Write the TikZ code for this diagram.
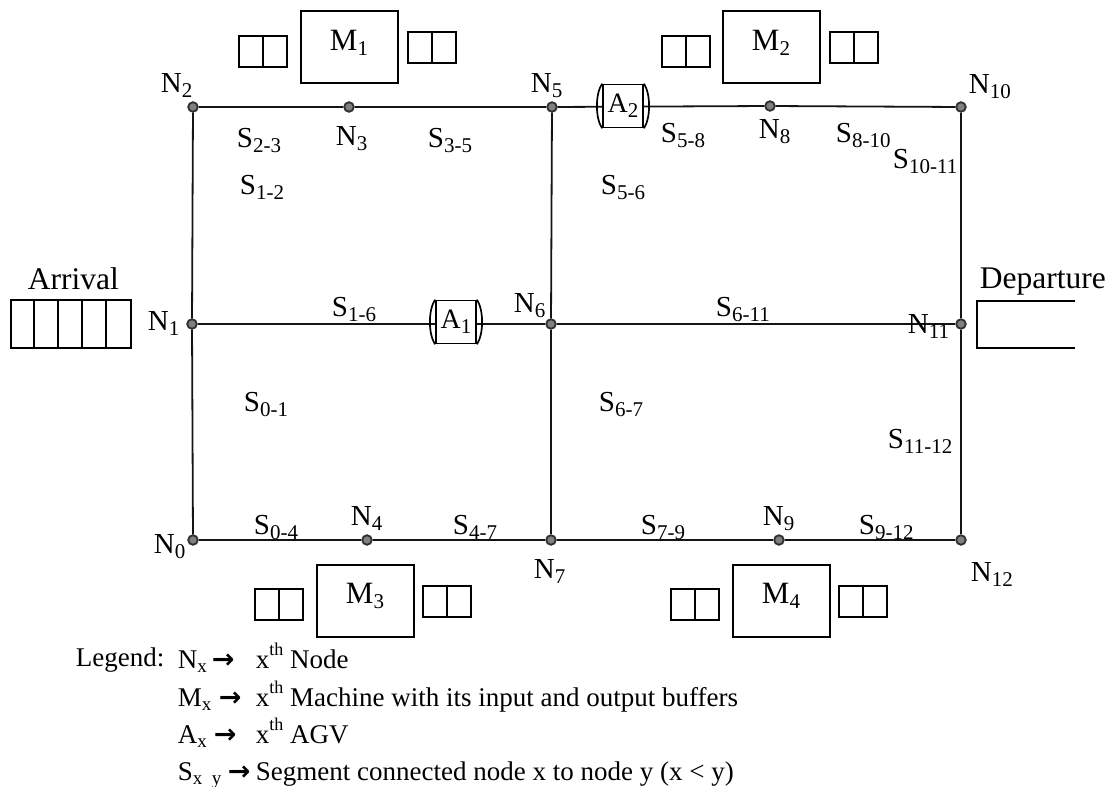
\documentclass[tikz,border=0pt]{standalone}
\usepackage{fontspec}
\setmainfont{Liberation Serif}
\newfontfamily\arrowfont{DejaVu Sans}
\usetikzlibrary{calc}
\definecolor{dotfill}{RGB}{128,128,128}
\definecolor{dotline}{RGB}{50,50,50}
\definecolor{lineclr}{RGB}{20,20,20}
\newcommand\sbs[1]{\raisebox{-5pt}{\fontsize{21}{21}\selectfont #1}}
\newcommand\lsb[1]{\raisebox{-4pt}{\fontsize{19}{19}\selectfont #1}}
\newcommand\lsp[1]{\raisebox{13pt}{\fontsize{18}{18}\selectfont #1}}
\begin{document}
\begin{tikzpicture}[x=1pt,y=-1pt,
  line width=1.8pt, draw=lineclr,
  lbl/.style={anchor=base west, inner sep=0pt, font=\fontsize{29}{34}\selectfont},
  big/.style={anchor=base west, inner sep=0pt, font=\fontsize{31.5}{36}\selectfont},
  lgd/.style={anchor=base west, inner sep=0pt, font=\fontsize{27}{30}\selectfont},
  arw/.style={anchor=base west, inner sep=0pt, font=\fontsize{27}{30}\arrowfont\bfseries},
  dot/.style={circle, fill=dotfill, draw=dotline, line width=1.4pt, minimum size=10pt, inner sep=0pt},
  seg/.style={draw=lineclr, line width=1.8pt},
  agv/.style={draw=black, fill=white, minimum width=40pt, minimum height=43pt, inner sep=0pt, line width=1.7pt, font=\fontsize{28}{30}\selectfont},
  mbox/.style={draw=black, minimum width=97pt, minimum height=72pt, inner sep=0pt, line width=2pt},
  mtext/.style={inner sep=0pt, font=\fontsize{31}{34}\selectfont},
  buf/.style={draw=black, minimum width=48pt, minimum height=31pt, inner sep=0pt, line width=2pt},
  ]
\useasboundingbox (0,0) rectangle (1109,787);

% grid nodes
\node[dot] (n0) at (193,540) {};
\node[dot] (n1) at (192,324) {};
\node[dot] (n2) at (193,107) {};
\node[dot] (n3) at (349,107) {};
\node[dot] (n4) at (367,540) {};
\node[dot] (n5) at (552,107) {};
\node[dot] (n6) at (551,324) {};
\node[dot] (n7) at (551,540) {};
\node[dot] (n8) at (770,106) {};
\node[dot] (n9) at (779,540) {};
\node[dot] (n10) at (961,107) {};
\node[dot] (n11) at (961,324) {};
\node[dot] (n12) at (961,540) {};

% segments
\draw[seg] (n0) -- (n1);
\draw[seg] (n1) -- (n2);
\draw[seg] (n2) -- (n3);
\draw[seg] (n3) -- (n5);
\draw[seg] (n5) -- (n8);
\draw[seg] (n8) -- (n10);
\draw[seg] (n10) -- (n11);
\draw[seg] (n11) -- (n12);
\draw[seg] (n0) -- (n4);
\draw[seg] (n4) -- (n7);
\draw[seg] (n7) -- (n9);
\draw[seg] (n9) -- (n12);
\draw[seg] (n1) -- (n6);
\draw[seg] (n6) -- (n11);
\draw[seg] (n5) -- (n6);
\draw[seg] (n6) -- (n7);
% redraw dots on top
\foreach \n in {n0,n1,n2,n3,n4,n5,n6,n7,n8,n9,n10,n11,n12}{
  \fill[dotfill] (\n) circle (4.5pt);
  \draw[dotline, line width=1.4pt] (\n) circle (4.5pt);
}

% AGVs
\node[agv] (A1) at (456,322) {A\sbs{1}};
\node[agv] (A2) at (623,106) {A\sbs{2}};
\foreach \a in {A1,A2}{
  \draw[line width=1.7pt, black] (\a.north west) .. controls ($(\a.north west)+(-7,10)$) and ($(\a.south west)+(-7,-10)$) .. (\a.south west);
  \draw[line width=1.7pt, black] (\a.north east) .. controls ($(\a.north east)+(7,10)$) and ($(\a.south east)+(7,-10)$) .. (\a.south east);
}

% machines
\node[mbox] (M1) at (349.5,47) {};
\node[mtext] (M1t) at (349,43) {M\sbs{1}};
\node[buf] (M1i) at (263,51) {};
\node[buf] (M1o) at (431.5,47.5) {};
\node[mbox] (M2) at (771.5,47) {};
\node[mtext] (M2t) at (771,43) {M\sbs{2}};
\node[buf] (M2i) at (685.5,51) {};
\node[buf] (M2o) at (853.5,47.5) {};
\node[mbox] (M3) at (365,600.5) {};
\node[mtext] (M3t) at (365,596) {M\sbs{3}};
\node[buf] (M3i) at (278.5,604.5) {};
\node[buf] (M3o) at (447,601) {};
\node[mbox] (M4) at (781.5,600.5) {};
\node[mtext] (M4t) at (781,596) {M\sbs{4}};
\node[buf] (M4i) at (695,604.5) {};
\node[buf] (M4o) at (863,601) {};
\foreach \b in {M1i,M1o,M2i,M2o,M3i,M3o,M4i,M4o}{
  \draw[line width=2pt, black] (\b.north) -- (\b.south);
}

% arrival buffer
\node[draw=black, line width=2pt, minimum width=120pt, minimum height=48pt, inner sep=0pt] (arr) at (71,324) {};
\foreach \i in {1,2,3,4}{
  \draw[line width=2pt, black] ($(arr.north west)+(24*\i,0)$) -- ($(arr.south west)+(24*\i,0)$);
}
\node[big] (arrt) at (27,289) {Arrival};

% departure
\coordinate (d1) at (1075,301);
\coordinate (d2) at (977,301);
\coordinate (d3) at (977,348);
\coordinate (d4) at (1075,348);
\draw[line width=2pt, black] (d1) -- (d2) -- (d3) -- (d4);
\node[big] (dept) at (979,288) {Departure};

% node labels
\node[lbl] (l0) at (153,553) {N\sbs{0}};
\node[lbl] (l1) at (147,330) {N\sbs{1}};
\node[lbl] (l2) at (160,92) {N\sbs{2}};
\node[lbl] (l3) at (335,145) {N\sbs{3}};
\node[lbl] (l4) at (350,525) {N\sbs{4}};
\node[lbl] (l5) at (530,92) {N\sbs{5}};
\node[lbl] (l6) at (513,312) {N\sbs{6}};
\node[lbl] (l7) at (533,578) {N\sbs{7}};
\node[lbl] (l8) at (758,138) {N\sbs{8}};
\node[lbl] (l9) at (762,525) {N\sbs{9}};
\node[lbl] (l10) at (968,93) {N\sbs{10}};
\node[lbl] (l11) at (907,333) {N\sbs{11}};
\node[lbl] (l12) at (970,581) {N\sbs{12}};

% segment labels
\node[lbl] (s23) at (236,147) {S\sbs{2-3}};
\node[lbl] (s35) at (427,147) {S\sbs{3-5}};
\node[lbl] (s12) at (239,194) {S\sbs{1-2}};
\node[lbl] (s58) at (660,142) {S\sbs{5-8}};
\node[lbl] (s810) at (835,142) {S\sbs{8-10}};
\node[lbl] (s1011) at (892,168) {S\sbs{10-11}};
\node[lbl] (s56) at (600,194) {S\sbs{5-6}};
\node[lbl] (s16) at (331,316) {S\sbs{1-6}};
\node[lbl] (s611) at (715,316) {S\sbs{6-11}};
\node[lbl] (s01) at (243,411) {S\sbs{0-1}};
\node[lbl] (s67) at (598,411) {S\sbs{6-7}};
\node[lbl] (s1112) at (887,448) {S\sbs{11-12}};
\node[lbl] (s04) at (253,534) {S\sbs{0-4}};
\node[lbl] (s47) at (452,534) {S\sbs{4-7}};
\node[lbl] (s79) at (640,534) {S\sbs{7-9}};
\node[lbl] (s912) at (858,534) {S\sbs{9-12}};

% legend
\node[lgd] (lg) at (75,666) {Legend:};
\node[lgd] (lg1a) at (177,668) {N\lsb{x}};
\node[arw] (lg1b) at (211,668) {→};
\node[lgd] (lg1c) at (255,668) {x\lsp{th} Node};
\node[lgd] (lg2a) at (177,706) {M\lsb{x}};
\node[arw] (lg2b) at (218,706) {→};
\node[lgd] (lg2c) at (255,706) {x\lsp{th} Machine with its input and output buffers};
\node[lgd] (lg3a) at (177,743) {A\lsb{x}};
\node[arw] (lg3b) at (213,743) {→};
\node[lgd] (lg3c) at (255,743) {x\lsp{th} AGV};
\node[lgd] (lg4a) at (177,780) {S\lsb{x~~y}};
\node[arw] (lg4b) at (227,780) {→};
\node[lgd] (lg4c) at (255,780) {Segment connected node x to node y (x < y)};
\end{tikzpicture}
\end{document}
